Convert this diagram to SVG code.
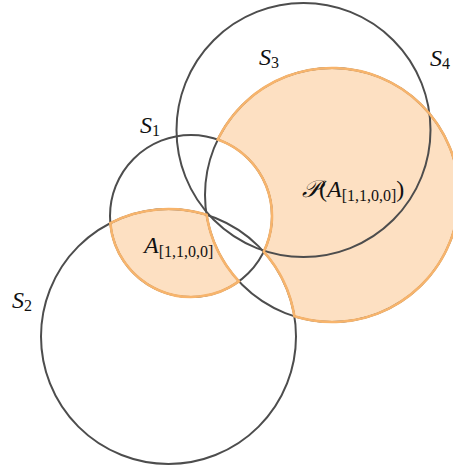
<svg xmlns="http://www.w3.org/2000/svg" width="453" height="467" viewBox="0 0 453 467">
<style>
.fillr{fill:#fde0c2;stroke:none}
.edge{fill:none;stroke:#f7b46c;stroke-width:2.6}
.set{fill:none;stroke:#4d4d4d;stroke-width:2}
.lbl{font-family:"Liberation Serif","DejaVu Serif",serif;font-size:24px;font-style:italic;fill:#111}
.sub{font-style:normal;font-size:16px}
.up{font-style:normal}
</style>
<rect width="453" height="467" fill="#ffffff"/>
<g id="region-A-fill">
<path class="fillr" d="M110.3,223.05 A127.5,127.5 0 0 1 206.56,214.82 A127,127 0 0 0 238.87,281.34 A81,81 0 0 1 110.3,223.05 Z"/>
</g>
<g id="region-P-fill">
<path class="fillr" d="M217.75,139.54 A127,127 0 1 1 294.4,316.3 A127.5,127.5 0 0 0 263.7,251.7 A81,81 0 0 0 217.75,139.54 Z"/>
</g>
<g id="S1">
<circle class="set" cx="191" cy="216" r="81"/>
<text class="lbl" x="140" y="133">S<tspan class="sub" dy="3">1</tspan></text>
</g>
<g id="S2">
<circle class="set" cx="168.5" cy="336.5" r="127.5"/>
<text class="lbl" x="12" y="308">S<tspan class="sub" dy="3">2</tspan></text>
</g>
<g id="S3">
<circle class="set" cx="303.5" cy="130" r="127"/>
<text class="lbl" x="259" y="65">S<tspan class="sub" dy="3">3</tspan></text>
</g>
<g id="S4">
<circle class="set" cx="332" cy="195" r="127"/>
<text class="lbl" x="430" y="66">S<tspan class="sub" dy="3">4</tspan></text>
</g>
<g id="region-A">
<path class="edge" d="M110.3,223.05 A127.5,127.5 0 0 1 206.56,214.82 A127,127 0 0 0 238.87,281.34 A81,81 0 0 1 110.3,223.05 Z"/>
<text class="lbl" x="144" y="253">A<tspan class="sub" dy="4">[1,1,0,0]</tspan></text>
</g>
<g id="region-P">
<path class="edge" d="M217.75,139.54 A127,127 0 1 1 294.4,316.3 A127.5,127.5 0 0 0 263.7,251.7 A81,81 0 0 0 217.75,139.54 Z"/>
<text class="lbl" x="302" y="197">𝒫<tspan class="up">(</tspan>A<tspan class="sub" dy="4">[1,1,0,0]</tspan><tspan class="up" dy="-4">)</tspan></text>
</g>
<g id="connectors"></g>
</svg>
